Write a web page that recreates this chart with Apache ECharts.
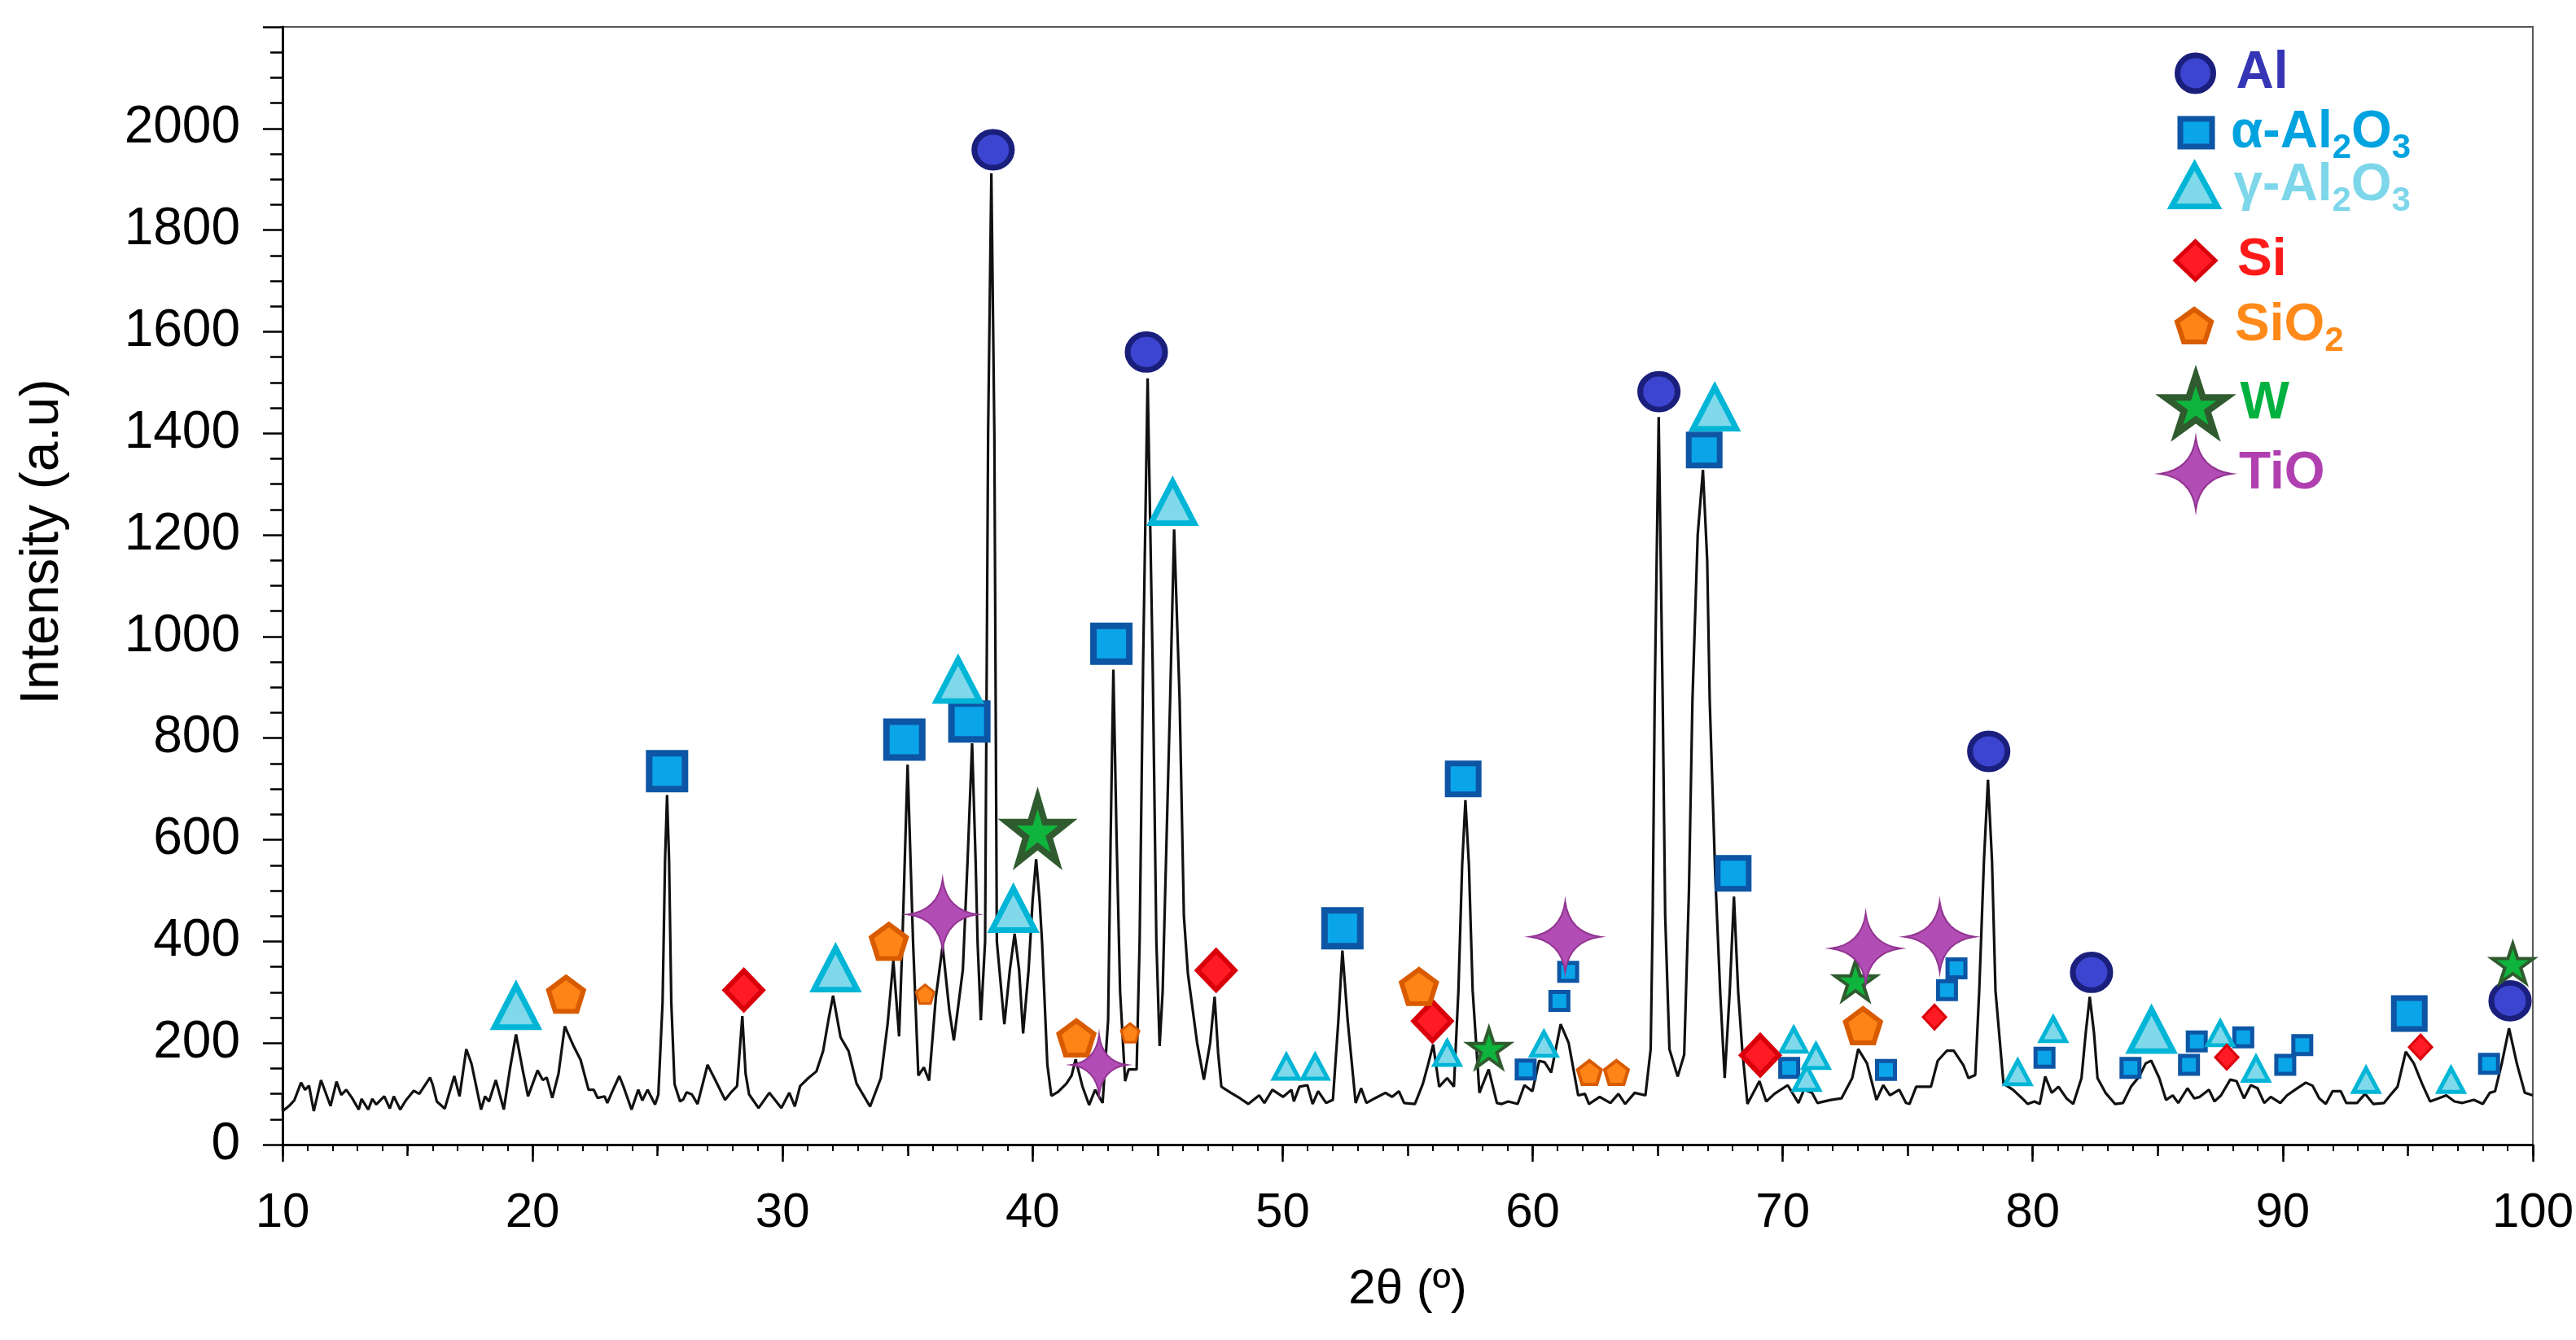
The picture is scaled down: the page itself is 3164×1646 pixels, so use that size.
<!DOCTYPE html>
<html>
<head>
<meta charset="utf-8">
<title>XRD pattern</title>
<script src="https://cdn.jsdelivr.net/npm/echarts@6/dist/echarts.min.js"></script>
<style>
  html, body { margin: 0; padding: 0; background: #fff; }
  #chart { width: 3164px; height: 1646px; }
</style>
</head>
<body>
<div id="chart"></div>
<script>
// scan, [2θ, intensity]
var pattern = [
  [10.0,100],[10.01,66],[10.26,76],[10.47,87],[10.74,122],[10.9,108],[11.06,116],[11.25,66],[11.54,127],[11.92,76],
  [12.16,124],[12.35,98],[12.55,108],[12.78,92],[13.05,69],[13.16,90],[13.43,69],[13.59,90],[13.75,79],[14.07,95],
  [14.29,71],[14.45,95],[14.71,69],[14.93,87],[15.25,106],[15.47,100],[15.9,132],[16.0,119],[16.17,85],[16.49,71],
  [16.87,135],[17.08,95],[17.35,188],[17.56,159],[17.94,69],[18.1,95],[18.26,85],[18.53,127],[18.85,69],[19.1,150],
  [19.34,217],[19.61,146],[19.82,95],[20.2,146],[20.41,127],[20.57,132],[20.79,92],[21.04,140],[21.29,233],[21.65,193],
  [21.92,167],[22.24,108],[22.45,108],[22.6,92],[22.88,95],[22.99,82],[23.2,106],[23.47,135],[23.64,114],[23.96,69],
  [24.23,108],[24.39,87],[24.6,108],[24.9,79],[25.03,98],[25.2,279],[25.3,560],[25.38,688],[25.46,560],[25.55,279],
  [25.68,119],[25.9,85],[26.03,89],[26.16,103],[26.37,99],[26.6,80],[27.0,157],[27.27,131],[27.7,88],[27.96,104],
  [28.18,115],[28.39,253],[28.52,140],[28.66,99],[29.04,72],[29.47,102],[29.95,72],[30.27,102],[30.49,75],[30.7,115],
  [31.03,131],[31.35,144],[31.62,184],[31.85,250],[32.02,293],[32.32,211],[32.64,184],[32.96,120],[33.5,75],[33.93,131],
  [34.2,237],[34.43,362],[34.66,213],[34.79,397],[35.0,748],[35.22,397],[35.43,136],[35.65,152],[35.86,126],[36.13,290],
  [36.4,391],[36.67,264],[36.85,205],[37.21,344],[37.4,560],[37.58,790],[37.72,560],[37.8,397],[37.93,245],[38.1,400],
  [38.22,1400],[38.35,1912],[38.47,1400],[38.57,400],[38.87,237],[39.09,344],[39.28,415],[39.46,344],[39.62,219],[39.84,344],
  [40.0,480],[40.14,562],[40.28,480],[40.38,397],[40.59,157],[40.75,96],[41.02,104],[41.35,120],[41.56,136],[41.72,168],
  [41.99,115],[42.26,78],[42.5,108],[42.8,82],[43.02,245],[43.12,600],[43.23,935],[43.36,600],[43.5,300],[43.7,125],
  [43.84,148],[44.16,148],[44.28,400],[44.42,950],[44.6,1508],[44.8,950],[44.95,400],[45.08,194],[45.2,300],[45.5,875],
  [45.66,1211],[45.88,875],[46.05,450],[46.21,337],[46.58,200],[46.85,128],[47.1,200],[47.28,291],[47.42,180],[47.55,114],
  [47.93,102],[48.3,91],[48.63,80],[49.06,97],[49.27,82],[49.59,108],[50.02,94],[50.35,108],[50.45,85],[50.67,114],
  [50.99,117],[51.2,80],[51.42,105],[51.74,82],[52.01,88],[52.23,245],[52.39,382],[52.6,245],[52.92,82],[53.14,111],
  [53.35,82],[53.68,91],[54.11,102],[54.38,94],[54.65,105],[54.86,82],[55.29,80],[55.61,120],[55.83,160],[56.02,197],
  [56.26,114],[56.58,131],[56.85,114],[57.03,303],[57.18,550],[57.31,678],[57.45,550],[57.6,303],[57.87,102],[58.24,148],
  [58.57,82],[58.76,80],[59.02,85],[59.4,80],[59.67,117],[59.99,105],[60.26,165],[60.48,162],[60.74,142],[61.12,237],
  [61.44,200],[61.82,97],[62.09,100],[62.25,80],[62.68,94],[63.11,82],[63.43,100],[63.7,80],[64.08,102],[64.51,97],
  [64.72,188],[64.8,450],[64.88,875],[65.04,1432],[65.2,875],[65.3,450],[65.47,188],[65.8,134],[66.06,177],[66.25,500],
  [66.39,875],[66.6,1200],[66.81,1328],[66.98,1150],[67.08,875],[67.3,532],[67.5,300],[67.68,131],[67.88,300],[68.05,488],
  [68.22,300],[68.38,188],[68.59,80],[69.07,125],[69.34,85],[69.67,100],[70.2,117],[70.63,82],[70.85,108],[71.17,102],
  [71.39,82],[71.92,88],[72.35,91],[72.78,131],[73.02,188],[73.37,160],[73.75,88],[74.02,117],[74.29,97],[74.66,108],
  [74.93,82],[75.07,80],[75.34,114],[75.93,114],[76.2,165],[76.57,185],[76.84,185],[77.22,157],[77.43,131],[77.7,137],
  [77.86,303],[78.05,560],[78.21,718],[78.37,560],[78.51,303],[78.83,120],[79.21,108],[79.58,91],[79.8,80],[80.07,85],
  [80.28,80],[80.5,134],[80.76,102],[81.03,114],[81.35,91],[81.62,80],[81.95,131],[82.12,220],[82.28,291],[82.45,220],
  [82.59,131],[82.91,102],[83.29,80],[83.61,82],[83.93,114],[84.26,134],[84.52,160],[84.74,165],[85.06,131],[85.33,88],
  [85.6,97],[85.82,82],[86.19,111],[86.46,91],[86.68,94],[87.05,108],[87.27,85],[87.53,97],[87.9,128],[88.15,125],
  [88.45,91],[88.72,117],[88.99,111],[89.26,82],[89.52,94],[89.9,82],[90.17,97],[90.49,108],[90.92,122],[91.19,116],
  [91.46,91],[91.72,80],[91.99,105],[92.32,105],[92.54,82],[92.97,82],[93.29,100],[93.62,80],[94.05,82],[94.38,102],
  [94.59,114],[94.92,183],[95.24,160],[95.57,120],[95.89,85],[96.22,91],[96.54,97],[96.87,85],[97.19,82],[97.64,88],
  [98.0,80],[98.28,102],[98.49,105],[98.76,160],[99.05,229],[99.36,160],[99.68,102],[100.0,97]
];

// phase markers, [2θ, marker height]
var alPeaks = [[38.42,1958],[44.55,1560],[65.05,1482],[78.24,774],[82.35,339],[99.09,283]];
var alphaBig = [[25.38,735],[34.87,797],[37.47,833],[43.15,986],[52.39,426]];
var alphaMid = [[57.22,720],[66.86,1367],[68.02,534],[95.06,258]];
var alphaSmall = [[59.72,148],[61.07,283],[61.42,340],[70.26,151],[74.13,147],[76.57,304],[76.95,347],[80.47,171],
  [83.91,151],[86.25,157],[86.56,203],[88.42,211],[90.1,157],[90.78,196],[98.25,159]];
var gammaBig = [[19.34,272],[32.12,346],[37.02,914],[39.23,463],[45.6,1264],[67.28,1450],[84.75,225]];
var gammaSmall = [[50.15,153],[51.3,153],[56.58,180],[60.45,198],[70.44,206],[70.96,131],[71.33,174],[79.4,142],
  [80.82,227],[87.5,219],[88.93,149],[93.33,127],[96.73,127]];
var siBig = [[28.45,304],[47.34,343],[55.99,243],[69.1,176]];
var siSmall = [[76.07,251],[87.76,172],[95.51,192]];
var sio2Big = [[21.34,296],[34.25,400],[41.75,210],[55.45,311],[73.21,234]];
var sio2Mid = [[62.27,142],[63.35,142]];
var sio2Small = [[35.7,296],[43.9,220]];
var wBig = [[40.2,620]];
var wSmall = [[58.25,190],[72.91,323],[99.2,357]];
var tioBig = [[36.4,453],[61.3,409],[73.32,386],[76.28,409]];
var tioSmall = [[42.66,157]];

var FONT = "'Liberation Sans', Arial, sans-serif";
var PENTAGON = 'path://M50,0 L100,36.3 L80.9,95.1 L19.1,95.1 L0,36.3 Z';
var STAR5 = 'path://M50,0 L61.2,34.5 L97.6,34.5 L68.2,55.9 L79.4,90.5 L50,69.1 L20.6,90.5 L31.8,55.9 L2.4,34.5 L38.8,34.5 Z';
var STAR4 = 'path://M50,0 Q56,44 100,50 Q56,56 50,100 Q44,56 0,50 Q44,44 50,0 Z';

function phase(name, data, symbol, size, fill, edge, bw) {
  return {
    name: name, type: 'scatter', data: data, symbol: symbol, symbolSize: size,
    itemStyle: { color: fill, borderColor: edge, borderWidth: bw, opacity: 1 },
    z: 5, clip: false
  };
}

function richName(n) {
  return ('{t|' + n.replace(/(\d)/g, '}{s|$1}{t|') + '}').replace('{t|}', '');
}

// one legend block per phase so each row sits where it does in the figure
function key(name, cx, cy, w, h, bw, color, gap) {
  return {
    data: [name], selectedMode: false, orient: 'vertical', padding: 0,
    left: cx - w / 2, top: cy - Math.max(80, h) / 2,
    itemWidth: w, itemHeight: h,
    itemStyle: { borderWidth: bw },
    formatter: function (n) { return '{g| }' + richName(n); },
    textStyle: {
      color: color, fontFamily: FONT,
      rich: {
        g: { width: gap, fontSize: 20, lineHeight: 80 },
        t: { color: color, fontFamily: FONT, fontWeight: 'bold', fontSize: 64, lineHeight: 80 },
        s: { color: color, fontFamily: FONT, fontWeight: 'bold', fontSize: 42, lineHeight: 40, verticalAlign: 'bottom' }
      }
    }
  };
}

var chart = echarts.init(document.getElementById('chart'));
var option = {
  animation: false,
  backgroundColor: '#fff',
  textStyle: { fontFamily: FONT },
  grid: { left: 347, right: 40, top: 33, bottom: 240, show: true, borderColor: '#555', borderWidth: 2 },
  legend: [
    key('Al', 2694, 98, 46, 44, 7, '#3535b5', 22),
    key('α-Al2O3', 2694, 171, 39, 34, 7, '#00a3e0', 18),
    key('γ-Al2O3', 2692, 236, 56, 51, 7, '#7dd6ea', 15),
    key('Si', 2694, 328, 49, 47, 5, '#ff1a1a', 22),
    key('SiO2', 2694, 408, 46, 40, 6, '#ff8a1a', 22),
    key('W', 2693, 497, 75, 79, 8, '#00b140', 12),
    key('TiO', 2696, 588, 88, 102, 2, '#b040b0', 4)
  ],
  xAxis: [{
    type: 'value', min: 10, max: 100, interval: 10,
    name: '2θ (º)', nameLocation: 'middle', nameGap: 148,
    nameTextStyle: { fontSize: 60, color: '#000', fontFamily: FONT },
    axisLine: { lineStyle: { color: '#000', width: 3 } },
    axisTick: { length: 21, lineStyle: { color: '#000', width: 2.5 } },
    minorTick: { show: true, splitNumber: 10, length: 8, lineStyle: { color: '#000', width: 2 } },
    axisLabel: { fontSize: 60, color: '#000', margin: 54, fontFamily: FONT },
    splitLine: { show: false }
  }, {
    type: 'value', position: 'bottom', min: 10, max: 100, interval: 5,
    axisLine: { show: false },
    axisTick: { length: 14, lineStyle: { color: '#000', width: 2.5 } },
    axisLabel: { show: false },
    splitLine: { show: false }
  }],
  yAxis: {
    type: 'value', min: 0, max: 2200, interval: 200,
    name: 'Intensity (a.u)', nameLocation: 'middle', nameGap: 261, nameRotate: 90,
    nameTextStyle: { fontSize: 66, color: '#000', fontFamily: FONT, padding: [0, 0, 0, 108] },
    axisLine: { show: true, lineStyle: { color: '#000', width: 3 } },
    axisTick: { show: true, length: 24, lineStyle: { color: '#000', width: 2.5 } },
    minorTick: { show: true, splitNumber: 4, length: 15, lineStyle: { color: '#000', width: 2.5 } },
    axisLabel: {
      fontSize: 64, color: '#000', margin: 52, showMaxLabel: false, fontFamily: FONT,
      formatter: function (v) { return String(v); }
    },
    splitLine: { show: false }
  },
  series: [
    {
      name: 'scan', type: 'line', data: pattern, showSymbol: false, symbol: 'none',
      lineStyle: { color: '#111', width: 3.2 }, z: 2
    },
    phase('Al', alPeaks, 'circle', [46, 44], '#3b45cf', '#1b1f7c', 7),
    phase('α-Al2O3', alphaBig, 'rect', 44, '#0aa5e8', '#0d55a5', 8),
    phase('α-Al2O3', alphaMid, 'rect', 38, '#0aa5e8', '#0d55a5', 7),
    phase('α-Al2O3', alphaSmall, 'rect', 22, '#0aa5e8', '#0d55a5', 5),
    phase('γ-Al2O3', gammaBig, 'triangle', [53, 51], '#7fd9ea', '#00b5d6', 7),
    phase('γ-Al2O3', gammaSmall, 'triangle', [31, 29], '#7fd9ea', '#00b5d6', 5),
    phase('Si', siBig, 'diamond', [46, 48], '#ff1a24', '#d9000b', 6),
    phase('Si', siSmall, 'diamond', [28, 30], '#ff1a24', '#d9000b', 3),
    phase('SiO2', sio2Big, PENTAGON, [43, 42], '#ff8417', '#d95b00', 6),
    phase('SiO2', sio2Mid, PENTAGON, [29, 29], '#ff8417', '#d95b00', 4),
    phase('SiO2', sio2Small, PENTAGON, [22, 23], '#ff8417', '#d95b00', 3),
    phase('W', wBig, STAR5, [75, 78], '#0fb43c', '#2f5b2f', 8),
    phase('W', wSmall, STAR5, [51, 48], '#0fb43c', '#2f5b2f', 4),
    phase('TiO', tioBig, STAR4, [86, 86], '#b14db4', '#923592', 2),
    phase('TiO', tioSmall, STAR4, [68, 74], '#b14db4', '#923592', 2)
  ]
};
chart.setOption(option);
</script>
</body>
</html>
